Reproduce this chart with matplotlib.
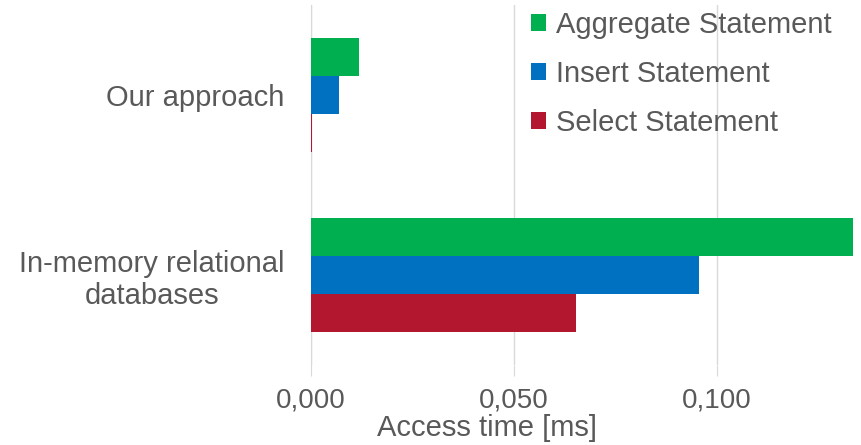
import numpy as np
import matplotlib.pyplot as plt

plt.rcParams['font.family'] = ['Liberation Sans', 'DejaVu Sans']

categories = ['Our approach', 'In-memory relational\ndatabases']
series_names = ['Aggregate Statement', 'Insert Statement', 'Select Statement']
aggregate = [0.0118, 0.135]
insert = [0.0069, 0.0955]
select = [0.0003, 0.0652]
xticks = [0.0, 0.05, 0.1]
xtick_labels = ['0,000', '0,050', '0,100']

colors = ['#00B050', '#0070C0', '#B3172F']
TEXT = '#595959'
GRID = '#D9D9D9'

fig = plt.figure(figsize=(8.61, 4.45), dpi=100)
ax = fig.add_axes([0.361, 0.180, 0.630, 0.809])

y_pos = np.arange(len(categories))
h = 0.211
for k, (vals, name) in enumerate(zip([aggregate, insert, select], series_names)):
    ax.barh(y_pos + (k - 1) * h, vals, height=h, color=colors[k], label=name, zorder=3)

ax.set_xlim(0, 0.1335)
ax.set_ylim(1.5, -0.5)
ax.set_yticks(y_pos)
ax.set_yticklabels(categories, fontsize=21, color=TEXT)
for lab in ax.get_yticklabels():
    lab.set_multialignment('center')
ax.set_xticks(xticks)
ax.set_xticklabels(xtick_labels, fontsize=20, color=TEXT)
ax.tick_params(axis='y', length=0, pad=19)
ax.tick_params(axis='x', length=8, color=GRID, pad=8)
ax.grid(axis='x', color=GRID, linewidth=1, zorder=0)
for s in ['top', 'right', 'bottom']:
    ax.spines[s].set_visible(False)
ax.spines['left'].set_color(GRID)

fig.text(487 / 861, 1 - 428 / 445, 'Access time [ms]', ha='center', va='center',
         fontsize=21, color=TEXT)

leg = ax.legend(loc='upper right', bbox_to_anchor=(1.008, 1.056), frameon=False,
                fontsize=21, handlelength=0.5, handleheight=0.5, handletextpad=0.35,
                labelspacing=0.72)
for t in leg.get_texts():
    t.set_color(TEXT)

fig.savefig('out.png', dpi=100)
